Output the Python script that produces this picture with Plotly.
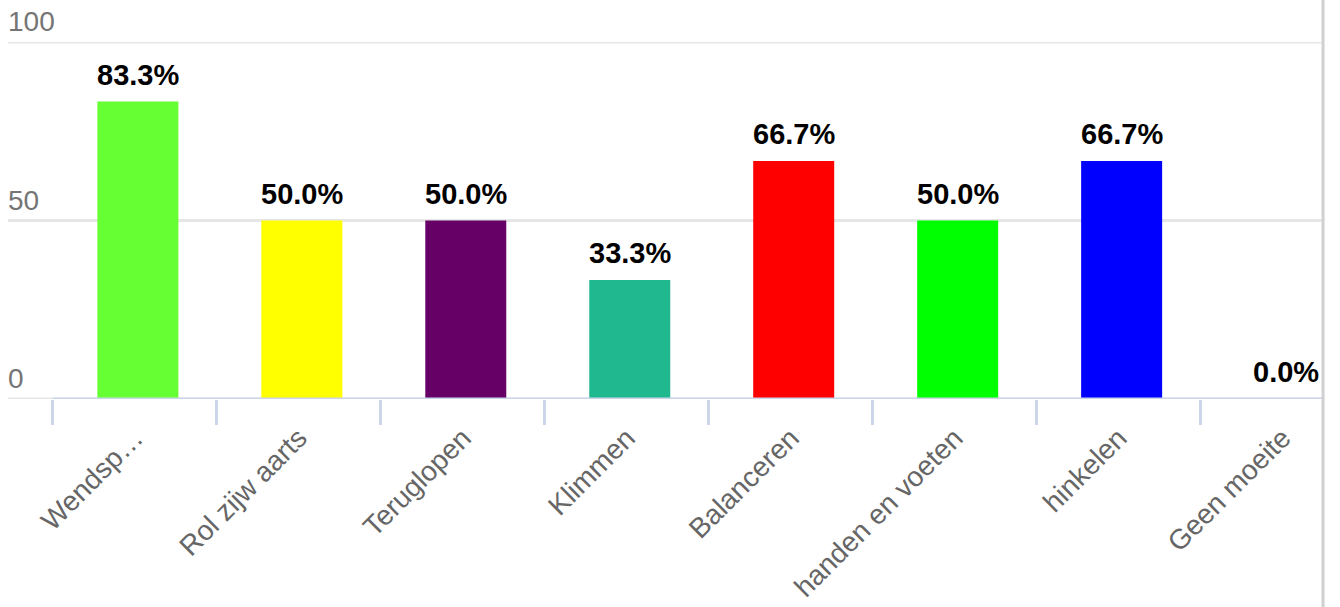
import plotly.graph_objects as go

categories = ["Wendsp…", "Rol zijw aarts", "Teruglopen", "Klimmen", "Balanceren",
              "handen en voeten", "hinkelen", "Geen moeite"]
values = [83.3, 50.0, 50.0, 33.3, 66.7, 50.0, 66.7, 0.0]
colors = ["#66ff33", "#ffff00", "#660066", "#20b98f", "#ff0000", "#00ff00", "#0000ff", "#999999"]
y_ticks = [0, 50, 100]

FONT = "Liberation Sans, Arial, sans-serif"

fig = go.Figure()
fig.add_trace(go.Bar(
    x=categories, y=values,
    width=0.494, offset=-0.229,
    marker=dict(color=colors, line=dict(width=0)),
    hoverinfo="x+y",
))

annotations = []
for c, v in zip(categories, values):
    annotations.append(dict(
        x=c, y=v, xref="x", yref="y", text=f"<b>{v:.1f}%</b>", showarrow=False,
        xanchor="center", yanchor="bottom", yshift=9, xshift=3,
        font=dict(family=FONT, size=29, color="#000000"),
    ))
for t in y_ticks:
    annotations.append(dict(
        x=0, y=t, xref="paper", yref="y", text=str(t), showarrow=False,
        xanchor="left", yanchor="bottom", yshift=3, xshift=-2,
        font=dict(family=FONT, size=28, color="#757575"),
    ))

fig.update_layout(
    width=1340, height=607,
    margin=dict(l=8, r=18, t=42, b=208, autoexpand=False),
    paper_bgcolor="white", plot_bgcolor="white",
    showlegend=False,
    font=dict(family=FONT),
    annotations=annotations,
    xaxis=dict(
        type="category",
        range=[-0.774, 7.24],
        tickson="boundaries",
        ticks="outside", ticklen=25, tickwidth=3, tickcolor="#ccd6eb",
        tickangle=-45,
        ticklabelstandoff=16,
        tickfont=dict(family=FONT, size=28, color="#666666"),
        showline=False, showgrid=False, zeroline=False,
        automargin=False,
    ),
    yaxis=dict(
        range=[0, 100],
        tickvals=y_ticks,
        showticklabels=False,
        showgrid=False,
        zeroline=False, showline=False, ticks="",
        automargin=False,
    ),
    shapes=[
        *[dict(type="line", xref="paper", yref="y", x0=0, x1=1, y0=t, y1=t,
               line=dict(color="#e6e6e6", width=3), layer="below") for t in y_ticks],
        dict(type="line", xref="x", yref="y", x0=-0.5, x1=7.24, y0=0, y1=0,
             line=dict(color="#ccd6eb", width=3)),
        dict(type="line", xref="paper", yref="paper", x0=1.0008, x1=1.0008, y0=-0.6, y1=1.15,
             line=dict(color="#d0d0d0", width=3)),
    ],
)

fig.write_html(
    "out.html",
    config={"displayModeBar": False},
    post_script="document.body.style.margin='0';document.body.style.overflow='hidden';",
)
